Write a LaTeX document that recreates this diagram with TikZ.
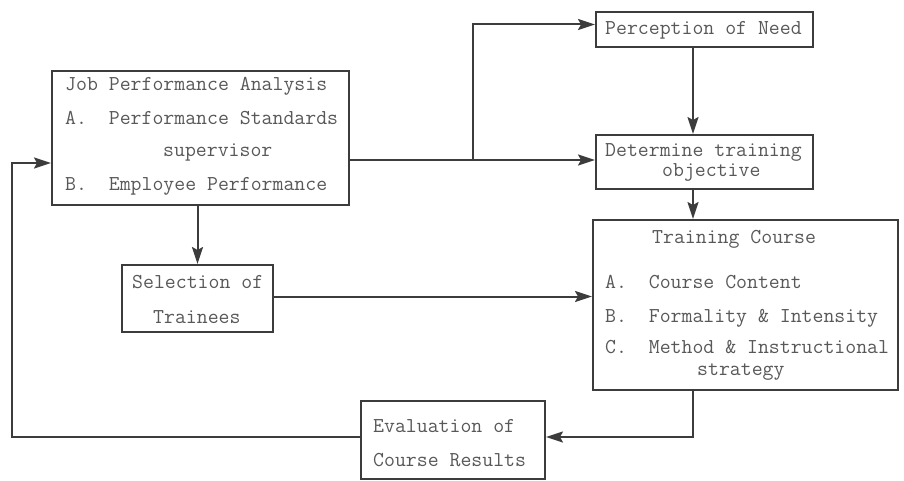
\documentclass[tikz,border=0pt]{standalone}
\usepackage{fontspec}
\usetikzlibrary{arrows.meta}
\definecolor{ink}{HTML}{3C3C3C}
\definecolor{txt}{HTML}{585858}
\tikzset{
  box/.style={draw=ink, line width=2pt, inner sep=0pt},
  lbl/.style={anchor=base west, inner sep=0pt, text=txt, font=\ttfamily\fontsize{21.2}{23}\selectfont},
  arr/.style={draw=ink, line width=2pt, -{Stealth[length=17pt,width=11pt,inset=3pt]}},
  wire/.style={draw=ink, line width=2pt}
}
\frenchspacing
\begin{document}
\begin{tikzpicture}[x=1pt,y=-1pt]
\useasboundingbox (0,0) rectangle (904,481);

% boxes
\node[box, minimum width=297pt, minimum height=134pt] (job)  at (200.5,138) {};
\node[box, minimum width=217pt, minimum height=35pt]  (perc) at (704.5,29.5) {};
\node[box, minimum width=217pt, minimum height=54pt]  (det)  at (704.5,162) {};
\node[box, minimum width=305pt, minimum height=170pt] (crs)  at (745.5,305) {};
\node[box, minimum width=151pt, minimum height=67pt]  (sel)  at (197.5,298.5) {};
\node[box, minimum width=184pt, minimum height=78pt]  (eval) at (453,440) {};

% box texts
\node[lbl] (jobA) at (65,91)  {Job Performance Analysis};
\node[lbl] (jobB) at (65,125) {A.\ \ Performance Standards};
\node[lbl] (jobC) at (163,157) {supervisor};
\node[lbl] (jobD) at (65,190) {B.\ \ Employee Performance};

\node[lbl] (percA) at (605,35) {Perception of Need};

\node[lbl] (detA) at (605,157) {Determine training};
\node[lbl] (detB) at (662,177) {objective};

\node[lbl] (crsA) at (652,243) {Training Course};
\node[lbl] (crsB) at (605,288) {A.\ \ Course Content};
\node[lbl] (crsC) at (605,322) {B.\ \ Formality \& Intensity};
\node[lbl] (crsD) at (605,353) {C.\ \ Method \& Instructional};
\node[lbl] (crsE) at (697,375) {strategy};

\node[lbl] (selA) at (132,288) {Selection of};
\node[lbl] (selB) at (153,323) {Trainees};

\node[lbl] (evA) at (373,432) {Evaluation of};
\node[lbl] (evB) at (373,466) {Course Results};

% routing points
\coordinate (split) at (473,160);
\coordinate (spine) at (693,0);
\coordinate (loopx) at (12,0);
\coordinate (fbin)  at ([yshift=-25pt]job.west);

% connectors
\draw[wire] (job.east |- split) -- (split);
\draw[arr] (split) -- (split -| det.west);
\draw[arr] (split) |- ([yshift=5pt]perc.west);
\draw[arr] (spine |- perc.south) -- (spine |- det.north);
\draw[arr] (spine |- det.south) -- (spine |- crs.north);
\draw[arr] (sel.north |- job.south) -- (sel.north);
\draw[arr] ([yshift=2pt]sel.east) -- ([yshift=2pt]sel.east -| crs.west);
\draw[arr] (spine |- crs.south) |- ([yshift=3pt]eval.east);
\draw[arr] ([yshift=3pt]eval.west) -| (loopx |- fbin) -- (fbin);
\end{tikzpicture}
\end{document}
